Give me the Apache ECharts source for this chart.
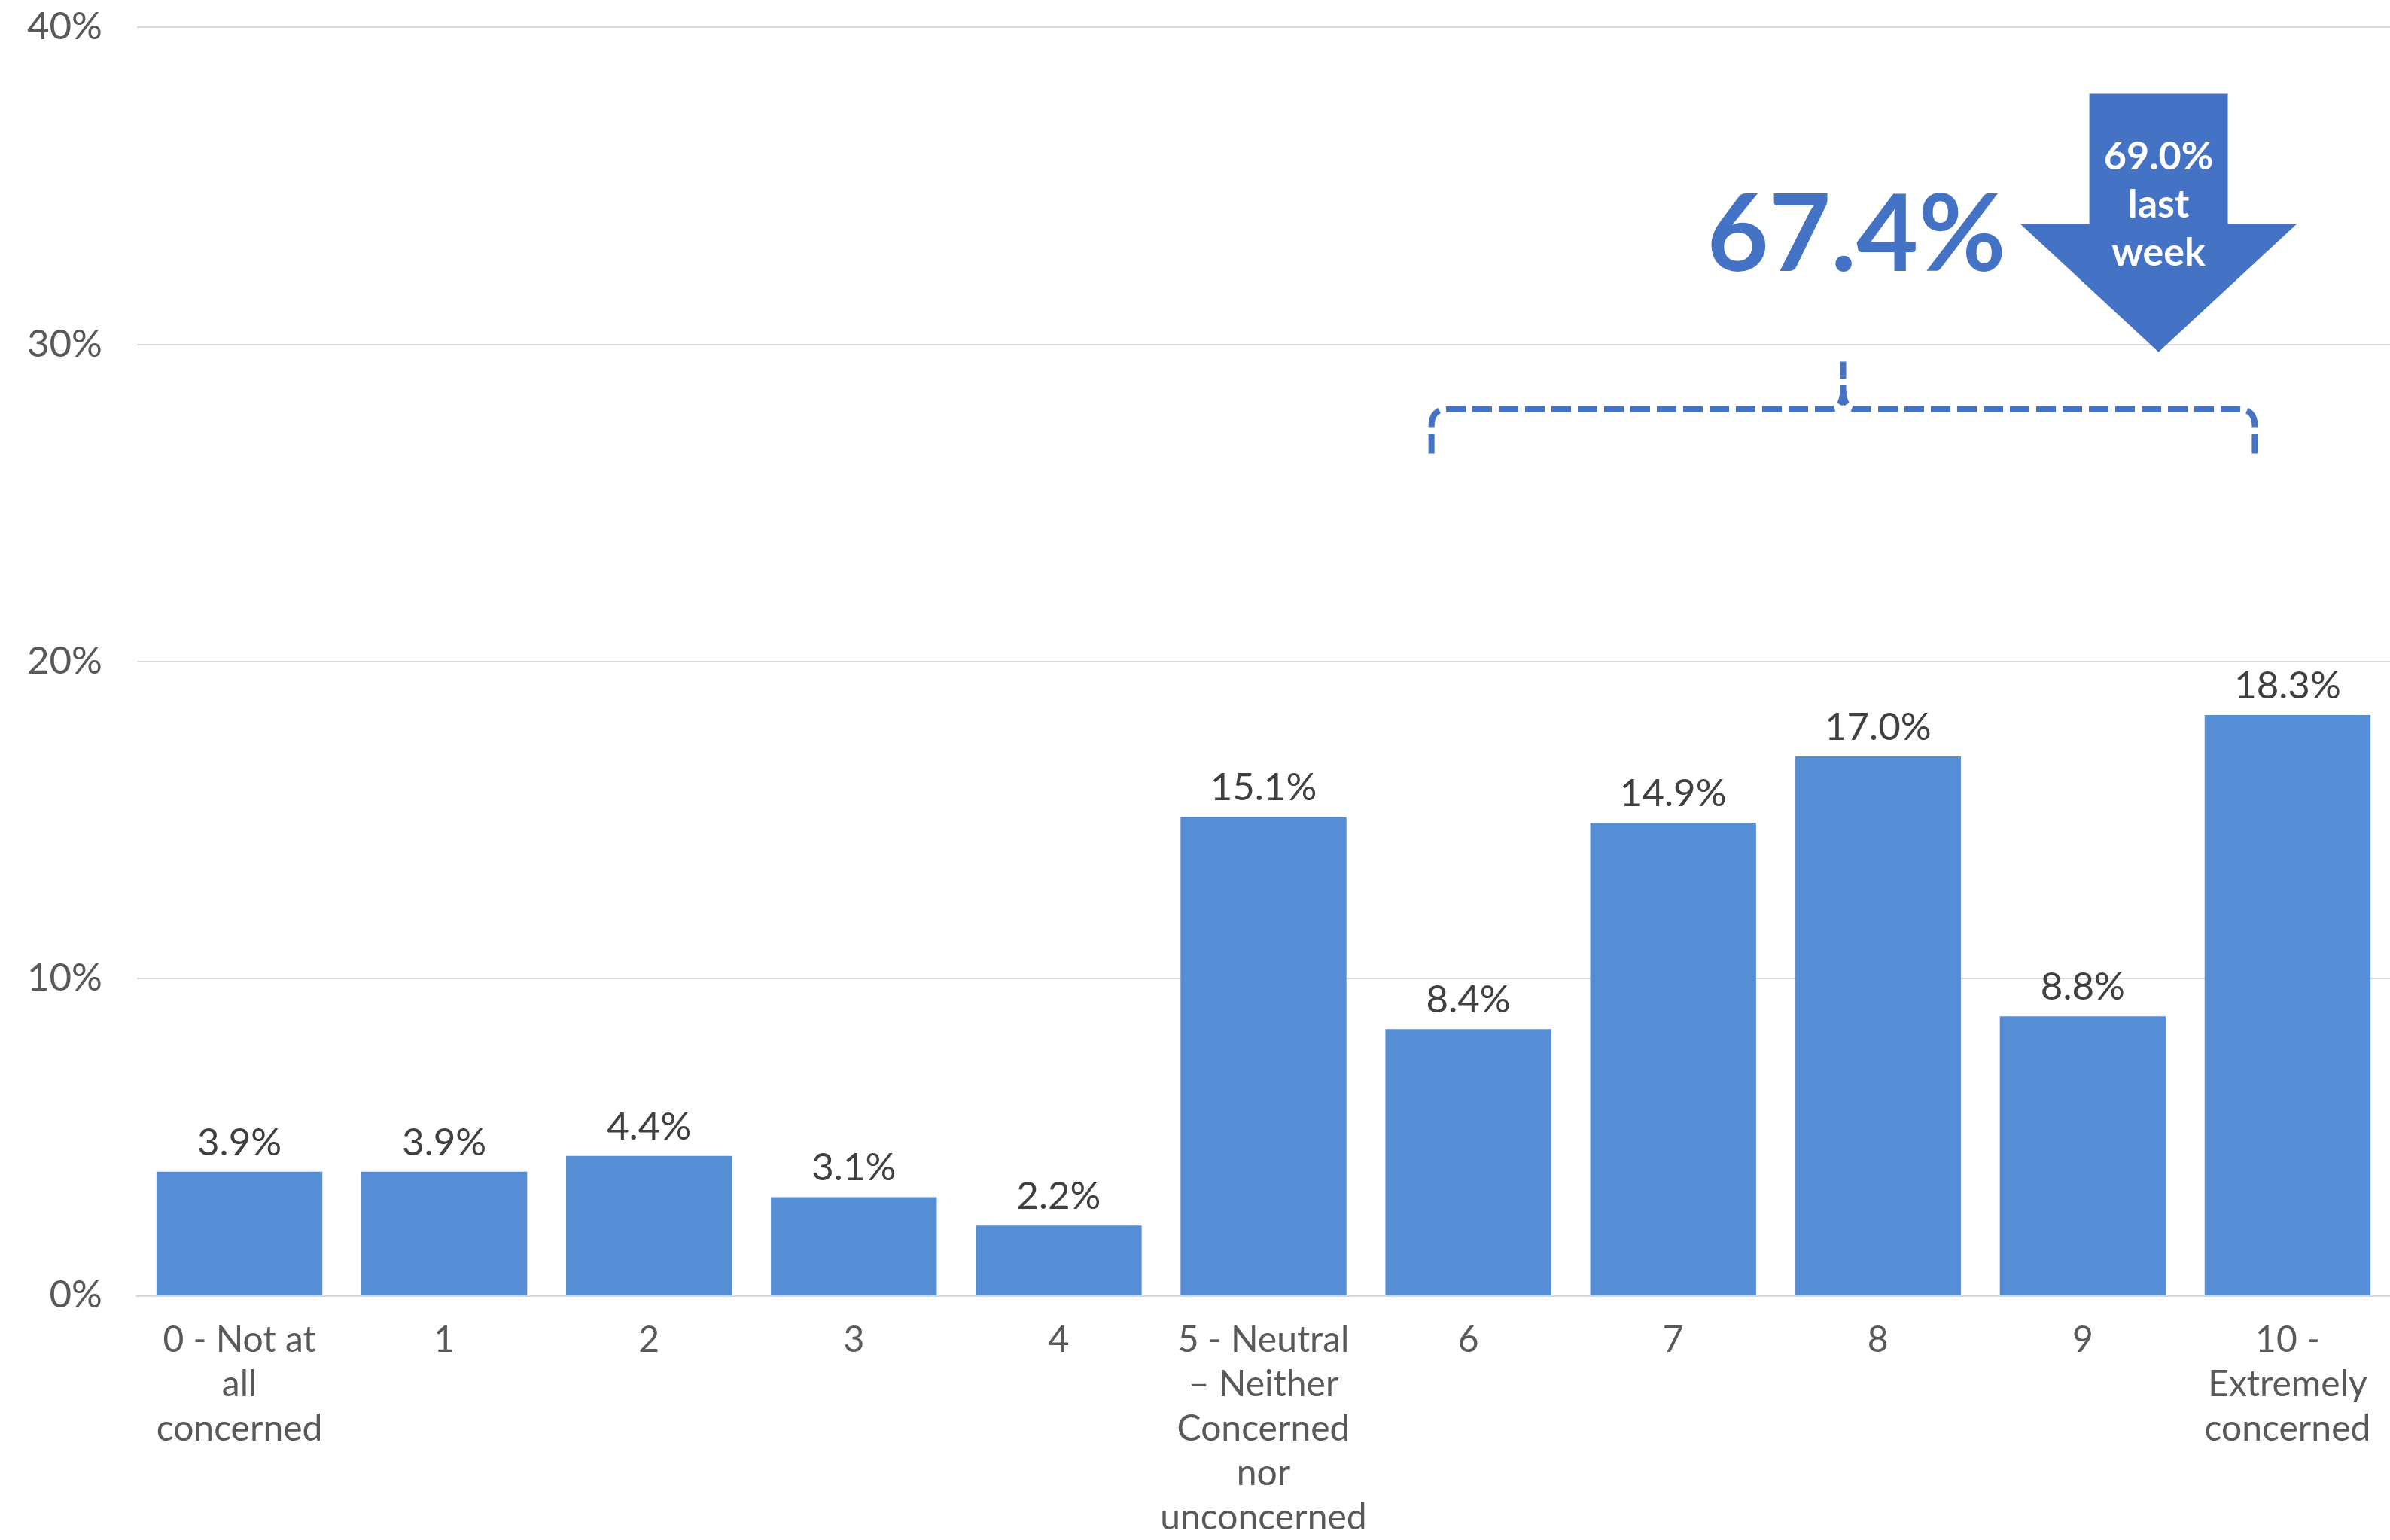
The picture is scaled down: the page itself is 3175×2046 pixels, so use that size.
<!DOCTYPE html>
<html>
<head>
<meta charset="utf-8">
<script src="https://cdn.jsdelivr.net/npm/echarts@6/dist/echarts.min.js"></script>
<style>
  html, body { margin: 0; padding: 0; background: #ffffff; }
  #chart { width: 3175px; height: 2046px; }
</style>
</head>
<body>
<div id="chart"></div>
<script>
// ---- Data ----
const categories = [
  '0 - Not at\nall\nconcerned', '1', '2', '3', '4',
  '5 - Neutral\n– Neither\nConcerned\nnor\nunconcerned',
  '6', '7', '8', '9', '10 -\nExtremely\nconcerned'
];
const values = [3.9, 3.9, 4.4, 3.1, 2.2, 15.1, 8.4, 14.9, 17.0, 8.8, 18.3];
const yMin = 0, yMax = 40, yInterval = 10;
const groupTotalLabel = '67.4%';
const lastWeekLabel = '69.0%\nlast\nweek';
const groupFirstIndex = 6, groupLastIndex = 10;

const FONT = 'Lato, "Noto Sans", sans-serif';
const BAR = '#558ED5';
const ACCENT = '#4472C4';

const chart = echarts.init(document.getElementById('chart'), null, { renderer: 'canvas' });

chart.setOption({
  animation: false,
  backgroundColor: '#ffffff',
  grid: { left: 182, right: 0, top: 36, bottom: 312, containLabel: false },
  xAxis: {
    type: 'category',
    data: categories,
    axisLine: { show: true, lineStyle: { color: '#D9D9D9', width: 3 } },
    axisTick: { show: false },
    axisLabel: {
      interval: 0, margin: 30, color: '#595959',
      fontFamily: FONT, fontSize: 48, lineHeight: 59
    }
  },
  yAxis: {
    type: 'value', min: yMin, max: yMax, interval: yInterval,
    axisLine: { show: false }, axisTick: { show: false },
    splitLine: { lineStyle: { color: '#D9D9D9', width: 2 } },
    axisLabel: {
      formatter: '{value}%', margin: 46, color: '#595959',
      fontFamily: FONT, fontSize: 51
    }
  },
  series: [{
    type: 'bar',
    data: values,
    barCategoryGap: '19%',
    itemStyle: { color: BAR },
    label: {
      show: true, position: 'top', distance: 13,
      formatter: p => p.value.toFixed(1) + '%',
      color: '#404040', fontFamily: FONT, fontSize: 51
    }
  }]
});

// quadratic bezier sampled into points (for a continuous dashed polyline)
function quad(p0, c, p1, n) {
  const pts = [];
  for (let i = 1; i <= n; i++) {
    const t = i / n, u = 1 - t;
    pts.push([u * u * p0[0] + 2 * u * t * c[0] + t * t * p1[0],
              u * u * p0[1] + 2 * u * t * c[1] + t * t * p1[1]]);
  }
  return pts;
}

function annotate() {
  const px = i => chart.convertToPixel({ xAxisIndex: 0 }, i);
  const py = v => chart.convertToPixel({ yAxisIndex: 0 }, v);
  const cw = px(1) - px(0);

  // bracket over categories 6..10
  const L = px(groupFirstIndex) - 0.18 * cw;
  const R = px(groupLastIndex) - 0.16 * cw;
  const M = (L + R) / 2;
  const yb = py(27.95), yEnd = py(26.55), yPeak = py(29.45);
  const r = 22;

  let left = [[L, yEnd], [L, yb + r]];
  left = left.concat(quad([L, yb + r], [L, yb], [L + r, yb], 8));
  left.push([M - 16, yb]);
  left = left.concat(quad([M - 16, yb], [M - 2, yb], [M, yb - 24], 8));
  left.push([M, yPeak]);

  let right = [[R, yEnd], [R, yb + r]];
  right = right.concat(quad([R, yb + r], [R, yb], [R - r, yb], 8));
  right.push([M + 16, yb]);
  right = right.concat(quad([M + 16, yb], [M + 2, yb], [M, yb - 24], 8));

  const braceStyle = { fill: null, stroke: ACCENT, lineWidth: 8, lineDash: [26, 9] };

  // arrow
  const ax = px(9) + 0.37 * cw;
  const shaftHalf = 0.338 * cw, headHalf = 0.676 * cw;
  const yTop = py(37.9), yHead = py(33.8), yTip = py(29.75);

  chart.setOption({
    graphic: [
      { type: 'polyline', shape: { points: left }, style: braceStyle, silent: true },
      { type: 'polyline', shape: { points: right }, style: braceStyle, silent: true },
      {
        type: 'polygon',
        shape: { points: [
          [ax - shaftHalf, yTop], [ax + shaftHalf, yTop], [ax + shaftHalf, yHead],
          [ax + headHalf, yHead], [ax, yTip], [ax - headHalf, yHead], [ax - shaftHalf, yHead]
        ] },
        style: { fill: ACCENT },
        silent: true
      },
      {
        type: 'text',
        x: ax, y: py(34.4),
        style: {
          text: lastWeekLabel, fill: '#ffffff', fontFamily: FONT, fontWeight: 'bold',
          fontSize: 52, lineHeight: 64, align: 'center', verticalAlign: 'middle'
        },
        silent: true
      },
      {
        type: 'text',
        x: px(8) - 0.105 * cw, y: py(33.4),
        style: {
          text: groupTotalLabel, fill: ACCENT, fontFamily: FONT, fontWeight: 'bold',
          fontSize: 142, align: 'center', verticalAlign: 'middle'
        },
        silent: true
      }
    ]
  });
}
annotate();
</script>
</body>
</html>
